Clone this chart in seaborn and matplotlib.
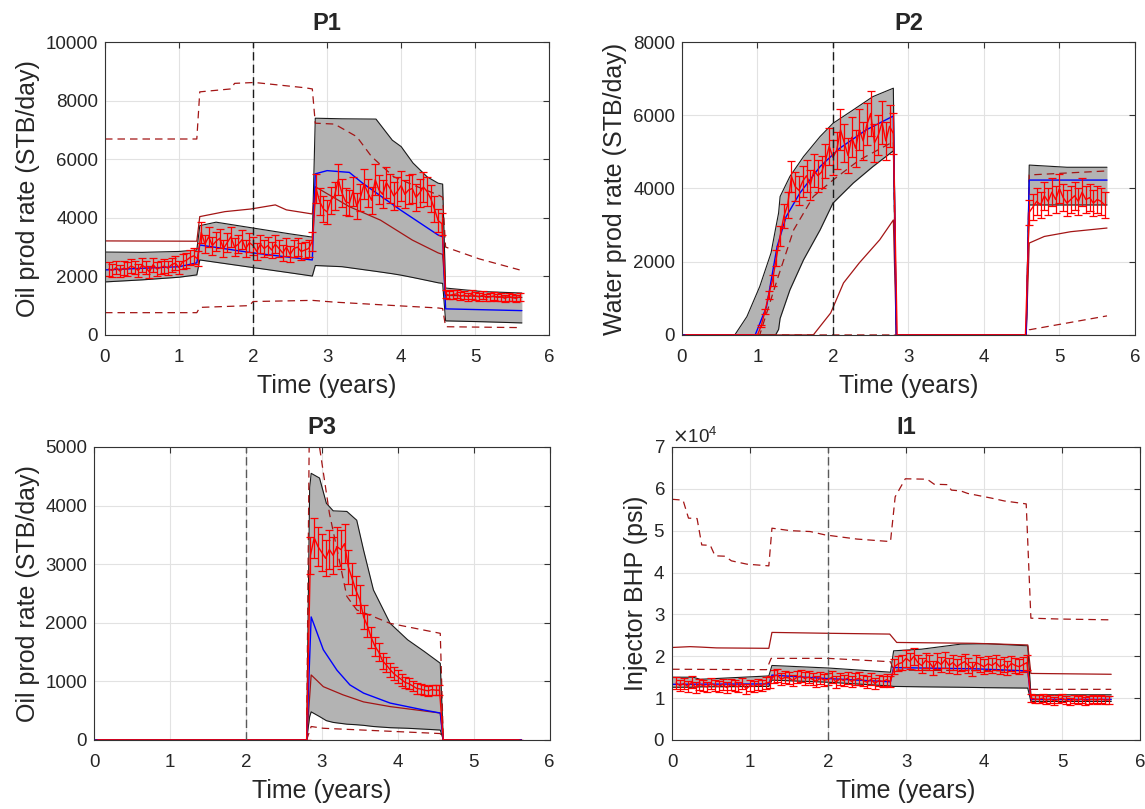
import numpy as np
import matplotlib
matplotlib.use("Agg")
import matplotlib.pyplot as plt
import seaborn as sns

# observation times (every 0.05 yr) and relative measurement error
t_obs = np.round(np.arange(1, 113) * 0.05, 2)
rel_err = 0.10
t_event = 2.0

# ---------------- P1 ----------------
p1_band_t = [0, 0.5, 1.0, 1.24, 1.28, 1.5, 2.0, 2.5, 2.80, 2.84, 3.2, 3.66, 3.88, 4.0, 4.16, 4.35, 4.5, 4.56, 4.60, 5.1, 5.63]
p1_band_hi = [2830, 2820, 2850, 2900, 3730, 3850, 3650, 3450, 3340, 7400, 7380, 7370, 6650, 6430, 5870, 5400, 5180, 5150, 1600, 1480, 1430]
p1_band_lo = [1810, 1880, 1970, 2050, 2560, 2480, 2300, 2120, 2010, 2370, 2330, 2170, 2090, 2040, 1960, 1860, 1780, 1760, 480, 450, 410]
p1_blue_t = [0, 1.0, 1.24, 1.28, 2.0, 2.80, 2.84, 3.0, 3.3, 3.48, 4.0, 4.5, 4.56, 4.60, 5.63]
p1_blue_v = [2220, 2330, 2460, 3070, 2800, 2560, 5500, 5610, 5550, 5180, 4250, 3410, 3350, 890, 830]
p1_red_t = [0, 1.24, 1.28, 1.62, 1.97, 2.3, 2.45, 2.80, 2.84, 3.3, 3.72, 4.15, 4.5, 4.56, 4.60, 5.63]
p1_red_v = [3210, 3200, 4040, 4210, 4300, 4440, 4270, 4130, 5060, 4380, 3920, 3240, 2800, 2750, 1350, 1280]
p1_dhi_t = [0, 1.24, 1.28, 1.70, 1.75, 2.02, 2.70, 2.80, 2.84, 3.1, 3.4, 3.6, 3.9, 4.22, 4.5, 4.56, 4.60, 5.05, 5.6]
p1_dhi_v = [6690, 6690, 8300, 8400, 8590, 8620, 8440, 8400, 7230, 7200, 6770, 6090, 5400, 5060, 4780, 4700, 3000, 2600, 2220]
p1_dlo_t = [0, 1.24, 1.28, 1.95, 2.0, 2.8, 3.1, 4.0, 4.5, 4.56, 4.6, 5.6]
p1_dlo_v = [760, 760, 940, 1000, 1140, 1180, 1120, 990, 920, 900, 280, 250]
p1_obs = ([2250, 2200, 2300, 2180, 2280, 2250, 2350, 2300, 2200, 2380, 2300, 2150, 2400,
           2250, 2300, 2350, 2280, 2400, 2450, 2300, 2500, 2550, 2650, 2700, 2600]
          + [3500, 3100, 3350, 3050, 3200, 3300, 2950, 3150, 3350, 3000, 3100, 3250, 2950,
             3150, 3050, 2850, 3100, 2950, 3050, 2900, 3100, 2950, 2800, 3000, 2750, 2950,
             3000, 2850, 2900, 2950, 3200]
          + [5000, 4550, 4300, 4200, 4600, 4750, 5300, 4850, 4550, 4500, 4900, 4400, 4700,
             5150, 4850, 4600, 5300, 4950, 4800, 5200, 5000, 4750, 4900, 5100, 4800, 4950,
             5000, 4700, 4850, 5050, 4900, 4650, 4300, 3900, 3800]
          + [1400, 1350, 1380, 1400, 1320, 1360, 1300, 1380, 1330, 1300, 1350, 1280, 1300,
             1330, 1280, 1300, 1250, 1300, 1270, 1250, 1300])

# ---------------- P2 ----------------
p2_band_t = [0, 0.70, 0.86, 1.03, 1.18, 1.24, 1.28, 1.30, 1.43, 1.61, 1.83, 2.0, 2.27, 2.53, 2.80, 2.84, 4.56, 4.60, 5.1, 5.63]
p2_band_hi = [0, 0, 500, 1320, 2240, 2900, 3330, 3780, 4330, 4870, 5420, 5780, 6150, 6510, 6740, 0, 0, 4640, 4580, 4580]
p2_band_lo = [0, 0, 0, 0, 0, 0, 150, 450, 1230, 2050, 2870, 3600, 4150, 4600, 5030, 0, 0, 3550, 3550, 3550]
p2_blue_t = [0, 0.97, 1.12, 1.26, 1.38, 1.56, 1.83, 2.09, 2.44, 2.80, 2.84, 4.56, 4.60, 5.63]
p2_blue_v = [0, 0, 770, 2410, 3230, 3870, 4600, 5100, 5600, 5980, 0, 0, 4230, 4230]
p2_red_t = [0, 1.74, 1.97, 2.14, 2.35, 2.62, 2.80, 2.84, 4.56, 4.60, 4.8, 5.15, 5.63]
p2_red_v = [0, 0, 600, 1420, 1970, 2600, 3140, 0, 0, 2510, 2690, 2820, 2920]
p2_dhi_t = [0, 1.03, 1.26, 1.48, 1.74, 2.0, 2.35, 2.80, 2.84, 4.56, 4.60, 5.63]
p2_dhi_v = [0, 0, 1500, 2870, 3780, 4230, 4780, 5280, 0, 0, 4370, 4480]
p2_dlo_t = [0, 4.56, 4.60, 5.63]
p2_dlo_v = [0, 0, 140, 520]
p2_obs = ([0] * 20 + [250, 650, 1100, 1500, 2100]
          + [2700, 3240, 3550, 4330, 4050, 3950, 4200, 4350, 4100, 4500, 4350, 4450, 4750,
             5150, 4850, 5050, 5600, 5250, 4900, 5400, 5100, 5600, 5300, 5750, 6050, 5250,
             5450, 5800, 5300, 5700, 5500]
          + [0] * 35
          + [3350, 3500, 3650, 3550, 3800, 3650, 3900, 3700, 4000, 3750, 3600, 3700, 3800,
             3650, 3900, 3700, 3750, 3600, 3700, 3650, 3550])

# ---------------- P3 ----------------
p3_band_t = [0, 2.80, 2.84, 2.86, 2.97, 3.06, 3.15, 3.33, 3.46, 3.55, 3.68, 3.9, 4.13, 4.35, 4.56, 4.60, 5.63]
p3_band_hi = [0, 0, 4300, 4550, 4470, 4040, 3910, 3900, 3750, 3240, 2560, 1990, 1710, 1510, 1310, 0, 0]
p3_band_lo = [0, 0, 400, 480, 400, 330, 300, 270, 260, 250, 230, 210, 200, 185, 170, 0, 0]
p3_blue_t = [0, 2.80, 2.86, 3.02, 3.2, 3.37, 3.55, 3.9, 4.35, 4.56, 4.60, 5.63]
p3_blue_v = [0, 0, 2100, 1540, 1190, 940, 800, 630, 510, 460, 0, 0]
p3_red_t = [0, 2.80, 2.86, 3.02, 3.28, 3.55, 3.9, 4.56, 4.60, 5.63]
p3_red_v = [0, 0, 1110, 910, 770, 650, 570, 460, 0, 0]
p3_dhi_t = [0, 2.80, 2.84, 2.90, 2.97, 3.1, 3.33, 3.46, 3.9, 4.56, 4.60, 5.63]
p3_dhi_v = [0, 0, 6000, 5800, 5000, 3870, 2450, 2220, 1990, 1820, 0, 0]
p3_dlo_t = [0, 2.80, 2.86, 3.02, 4.56, 4.60, 5.63]
p3_dlo_v = [0, 0, 230, 200, 110, 0, 0]
p3_obs = ([0] * 25 + [0] * 31
          + [3150, 3450, 3300, 3200, 3100, 3250, 3150, 3300, 3250, 3350, 2950, 2750, 2550,
             2400, 2100, 1950, 1750, 1600, 1500, 1350, 1280, 1200, 1130, 1080, 1030, 980,
             960, 920, 880, 870, 850, 840, 860, 850, 850]
          + [0] * 21)

# ---------------- I1 ----------------
i1_band_t = [0, 0.27, 0.36, 1.24, 1.28, 2.0, 2.80, 2.84, 3.2, 3.70, 4.04, 4.56, 4.60, 5.63]
i1_band_hi = [15000, 15000, 14500, 15300, 17800, 17200, 16200, 21300, 21700, 22900, 23000, 22500, 10800, 10800]
i1_band_lo = [12600, 12600, 12700, 12800, 14300, 13800, 12900, 12800, 12700, 12600, 12500, 12400, 9200, 9200]
i1_blue_t = [0, 1.24, 1.28, 1.97, 2.80, 2.84, 3.9, 4.56, 4.60, 5.63]
i1_blue_v = [13300, 13400, 15500, 14700, 13900, 17300, 17000, 16500, 9700, 9700]
i1_red_t = [0, 0.23, 0.36, 0.57, 1.24, 1.28, 1.97, 2.79, 2.88, 3.87, 4.56, 4.60, 5.63]
i1_red_v = [22100, 22300, 22200, 22000, 21900, 25700, 25500, 25300, 23300, 23100, 22700, 15900, 15700]
i1_dhi_t = [0, 0.14, 0.21, 0.32, 0.38, 0.49, 0.55, 0.68, 0.76, 0.96, 1.24, 1.28, 1.52, 1.77, 1.96,
            2.37, 2.80, 2.86, 2.99, 3.27, 3.36, 3.53, 3.58, 3.70, 3.79, 4.09, 4.26, 4.54, 4.60, 4.96, 5.63]
i1_dhi_v = [57500, 57300, 53000, 52900, 46600, 46500, 44000, 43900, 42800, 42000, 41600, 50600, 50000,
            49800, 49000, 48000, 47400, 58100, 62400, 62300, 61100, 61000, 59700, 59500, 58900, 57800,
            57100, 56400, 29100, 28900, 28700]
i1_dlo_t = [0, 1.21, 1.27, 2.0, 2.80, 2.84, 4.56, 4.60, 5.63]
i1_dlo_v = [16900, 16800, 19500, 19500, 18700, 16700, 16500, 12100, 12100]
i1_obs = ([13600, 13000, 13500, 12800, 13800, 12500, 13300, 13000, 12700, 13500, 13000, 12800, 13300,
           12500, 13200, 13000, 12700, 13500, 12200, 13000, 12800, 13300, 13000, 13600, 13800]
          + [15200, 15500, 14500, 15000, 14800, 14200, 15000, 15300, 14700, 15000, 14500, 14000, 14800,
             14300, 14500, 15000, 13800, 14600, 14200, 14800, 14000, 14500, 14700, 14200, 13800, 14500,
             13500, 14200, 14000, 14400, 14000]
          + [17500, 18200, 18500, 19500, 18800, 20000, 18500, 17800, 19000, 18500, 17200, 18800, 18000,
             19200, 17800, 18500, 17500, 18200, 18700, 17800, 17000, 18500, 18000, 17500, 18200, 17800,
             18500, 17500, 18000, 17200, 18300, 17800, 17500, 18000, 18500]
          + [10000, 9800, 9700, 10000, 9500, 9800, 9300, 9700, 10000, 9500, 9200, 9700, 9500,
             9800, 9400, 9600, 9700, 9500, 9800, 9500, 9600])

DARKRED = "#a31515"

sns.set_theme(style="whitegrid")
plt.rcParams["font.family"] = ["Liberation Sans", "DejaVu Sans"]
plt.rcParams["axes.edgecolor"] = "0.2"
plt.rcParams["grid.color"] = "#e2e2e2"
plt.rcParams["grid.linewidth"] = 0.8


def draw_panel(ax, band, blue, red, dhi, dlo, obs, title, ylabel, ymax, ystep, vcolor):
    bt, bhi, blo = band
    ax.fill_between(bt, blo, bhi, color="#b3b3b3", lw=0, zorder=2)
    sns.lineplot(x=bt, y=bhi, ax=ax, color="k", lw=0.8, estimator=None, sort=False, zorder=3)
    sns.lineplot(x=bt, y=blo, ax=ax, color="k", lw=0.8, estimator=None, sort=False, zorder=3)
    sns.lineplot(x=red[0], y=red[1], ax=ax, color=DARKRED, lw=0.9, estimator=None, sort=False, zorder=4)
    for d in (dhi, dlo):
        sns.lineplot(x=d[0], y=d[1], ax=ax, color=DARKRED, lw=0.9, linestyle=(0, (6, 4)),
                     estimator=None, sort=False, zorder=4)
    sns.lineplot(x=blue[0], y=blue[1], ax=ax, color="#0000ff", lw=1.0, estimator=None, sort=False, zorder=5)
    obs = np.array(obs, dtype=float)
    ax.errorbar(t_obs, obs, yerr=rel_err * obs, color="#ff0000", lw=1.0, elinewidth=0.9,
                capsize=3, capthick=0.9, zorder=6)
    ax.axvline(t_event, color=vcolor, lw=1.0, ls=(0, (6, 3)), zorder=7)
    ax.set_xlim(0, 6)
    ax.set_ylim(0, ymax)
    ax.set_xticks(range(0, 7))
    ax.set_yticks(np.arange(0, ymax + 1, ystep))
    ax.set_title(title, fontsize=17, fontweight="bold", pad=9)
    ax.set_xlabel("Time (years)", fontsize=18, labelpad=6)
    ax.set_ylabel(ylabel, fontsize=18, labelpad=4)
    ax.tick_params(direction="in", top=True, right=True, length=4, width=0.8,
                   labelsize=13.5, pad=5, color="0.2")
    ax.tick_params(axis="x", pad=10)
    for s in ax.spines.values():
        s.set_linewidth(0.8)
        s.set_zorder(8)


fig = plt.figure(figsize=(11.45, 8.09), dpi=100)
ax1 = fig.add_axes([0.0917, 0.586, 0.388, 0.362])
ax2 = fig.add_axes([0.5956, 0.586, 0.3956, 0.362])
ax3 = fig.add_axes([0.0821, 0.0853, 0.3979, 0.3622])
ax4 = fig.add_axes([0.587, 0.0853, 0.4087, 0.3622])

draw_panel(ax1, (p1_band_t, p1_band_hi, p1_band_lo), (p1_blue_t, p1_blue_v), (p1_red_t, p1_red_v),
           (p1_dhi_t, p1_dhi_v), (p1_dlo_t, p1_dlo_v), p1_obs, "P1", "Oil prod rate (STB/day)",
           10000, 2000, "0.1")
draw_panel(ax2, (p2_band_t, p2_band_hi, p2_band_lo), (p2_blue_t, p2_blue_v), (p2_red_t, p2_red_v),
           (p2_dhi_t, p2_dhi_v), (p2_dlo_t, p2_dlo_v), p2_obs, "P2", "Water prod rate (STB/day)",
           8000, 2000, "0.1")
draw_panel(ax3, (p3_band_t, p3_band_hi, p3_band_lo), (p3_blue_t, p3_blue_v), (p3_red_t, p3_red_v),
           (p3_dhi_t, p3_dhi_v), (p3_dlo_t, p3_dlo_v), p3_obs, "P3", "Oil prod rate (STB/day)",
           5000, 1000, "0.35")
draw_panel(ax4, (i1_band_t, i1_band_hi, i1_band_lo), (i1_blue_t, i1_blue_v), (i1_red_t, i1_red_v),
           (i1_dhi_t, i1_dhi_v), (i1_dlo_t, i1_dlo_v), i1_obs, "I1", "Injector BHP (psi)",
           70000, 10000, "0.35")
ax4.ticklabel_format(axis="y", style="sci", scilimits=(4, 4), useMathText=True)
ax4.yaxis.get_offset_text().set_fontsize(13.5)

fig.savefig("out.png", dpi=100)
